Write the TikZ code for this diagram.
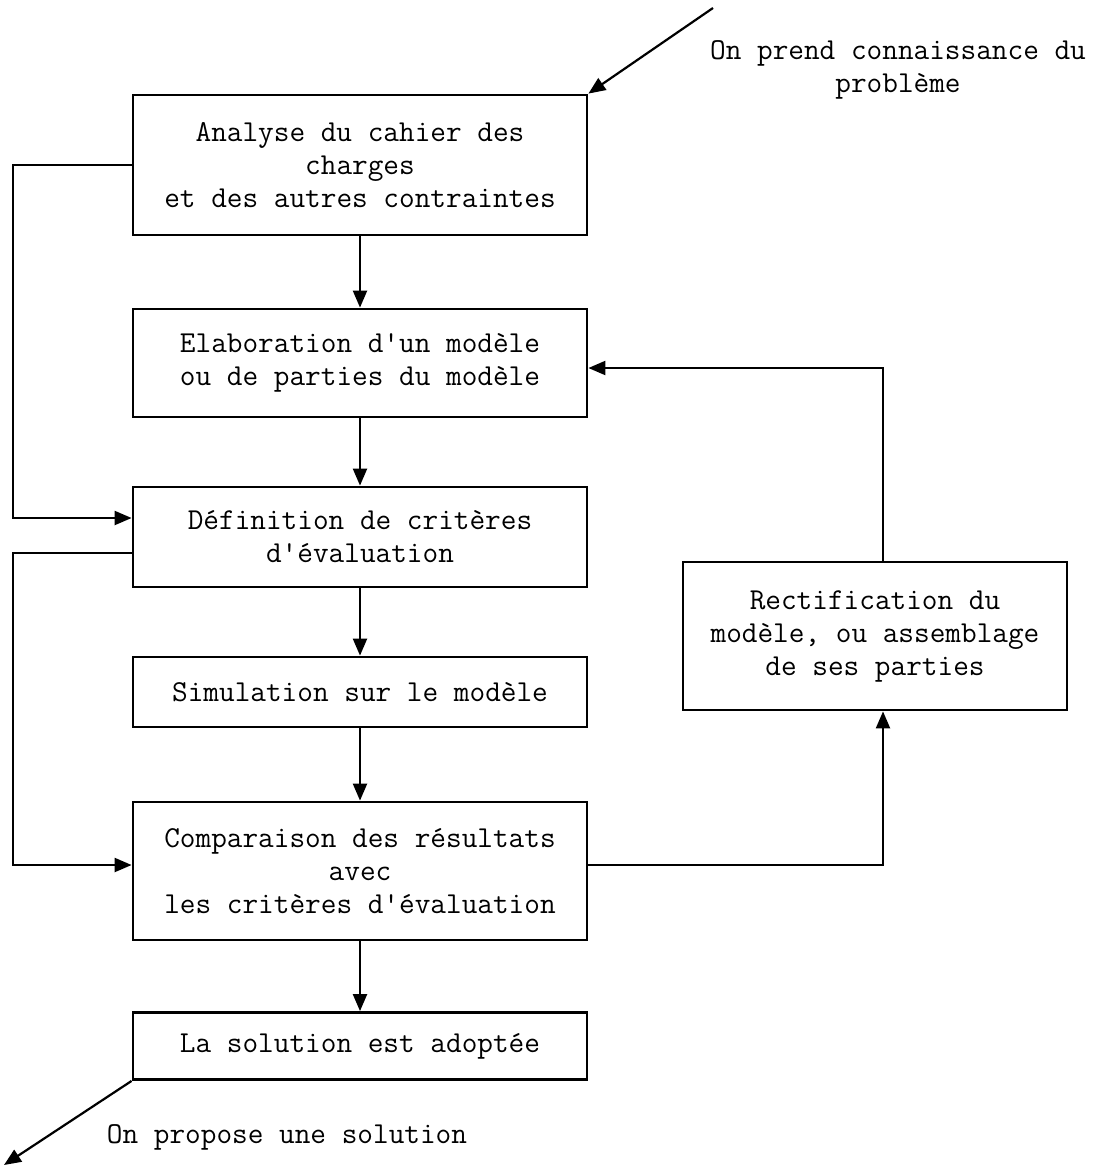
\documentclass[tikz,border=0pt]{standalone}
\usepackage{fontspec}
\usetikzlibrary{arrows.meta}
\begin{document}
\begin{tikzpicture}[x=0.5pt,y=-0.5pt,
  box/.style={draw,line width=1.4pt,inner sep=0pt,align=center,
    minimum width=227pt,font=\ttfamily\fontsize{15.2}{16.5}\selectfont},
  lbl/.style={inner sep=0pt,align=center,font=\ttfamily\fontsize{15.2}{16.5}\selectfont},
  link/.style={line width=1.1pt,-{Triangle[length=8.5pt,width=7pt]}},
  plain/.style={line width=1.1pt}]
\useasboundingbox (0,0) rectangle (1099,1167);

% main column of steps
\node[box,minimum height=70pt] (b1) at (360,165)
  {Analyse du cahier des\\charges\\et des autres contraintes};
\node[box,minimum height=54pt] (b2) at (360,363)
  {Elaboration d'un modèle\\ou de parties du modèle};
\node[box,minimum height=50pt] (b3) at (360,537)
  {Définition de critères\\d'évaluation};
\node[box,minimum height=35pt] (b4) at (360,692)
  {Simulation sur le modèle};
\node[box,minimum height=69pt] (b5) at (360,871)
  {Comparaison des résultats\\avec\\les critères d'évaluation};
\node[box,minimum height=33.5pt] (b6) at (360,1046)
  {La solution est adoptée};
% correction step on the right
\node[box,minimum width=192pt,minimum height=74pt] (b7) at (875,636)
  {Rectification du\\modèle, ou assemblage\\de ses parties};

% entry and exit labels
\node[lbl] (tin) at (898,70) {On prend connaissance du\\problème};
\node[lbl] (tout) at (287,1137) {On propose une solution};

% routing points
\coordinate (inA) at (713,8);
\coordinate (outA) at (4,1165);
\coordinate (l1) at (13,518);
\coordinate (l2) at (13,865);
\coordinate (r1) at (883,865);
\coordinate (r2) at (883,368);

% connectors
\draw[link] (inA) -- (b1.north east);
\draw[link] (b1) -- (b2);
\draw[link] (b2) -- (b3);
\draw[link] (b3) -- (b4);
\draw[link] (b4) -- (b5);
\draw[link] (b5) -- (b6);
\draw[link] (b6.south west) -- (outA);
\draw[link] (b1.west) -| (l1) -- (b3.west |- l1);
\draw[link] (b3.west |- 0,553) -| (l2) -- (b5.west |- l2);
\draw[link] (b5.east |- r1) -- (r1) -- (b7.south -| r1);
\draw[link] (b7.north -| r2) -- (r2) -- (b2.east |- r2);
\end{tikzpicture}
\end{document}
